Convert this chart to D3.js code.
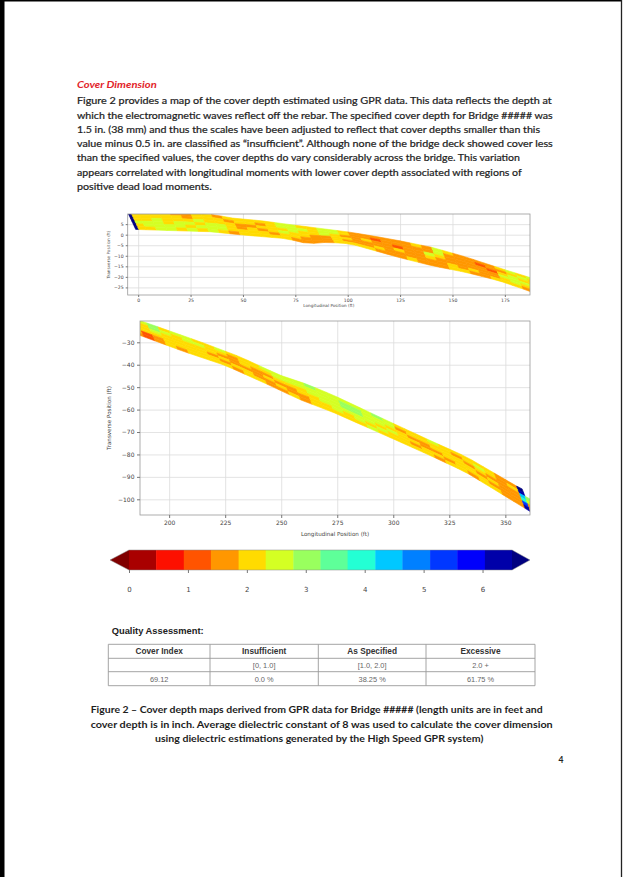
<!DOCTYPE html>
<html>
<head>
<meta charset="utf-8">
<title>Cover Dimension</title>
<script src="https://cdnjs.cloudflare.com/ajax/libs/d3/7.8.5/d3.min.js"></script>
<style>
  body { margin: 0; background: #fff; }
  svg { display: block; }
  .para { font-family: Lato, "Open Sans", sans-serif; font-size: 9.6px; fill: #1e1e1e; stroke: #1e1e1e; stroke-width: 0.22px; }
  .caption { font-family: Lato, sans-serif; font-size: 9.4px; font-weight: bold; fill: #1e1e1e; }
  .axis text { font-family: "DejaVu Sans", sans-serif; fill: #444; }
  .axis line { stroke: #777; }
  .grid line { stroke: #dcdcdc; stroke-width: 0.8px; }
  .grid path { display: none; }
  .tbl text { font-family: "Liberation Sans", Arial, sans-serif; }
</style>
</head>
<body>
<div id="page"></div>
<script type="text/javascript">
// colour levels of the cover depth (in.) and the jet colours between them
const levels = [0, 0.46, 0.93, 1.39, 1.86, 2.32, 2.79, 3.25, 3.71, 4.18, 4.64, 5.11, 5.57, 6.04, 6.5];
const binColors = ["#a90000", "#fd1000", "#ff5400", "#ff9700", "#ffdb00", "#d4ff23", "#99ff5e",
                   "#5eff99", "#23ffd4", "#00c8ff", "#0080ff", "#0037ff", "#0000fc", "#0000a9"];
const underColor = "#800000";
const overColor = "#000080";
const cbarTicks = [0, 1, 2, 3, 4, 5, 6];

// deck outline (ft): top and bottom edges of the scanned strip
const topEdgeX = [-5, 20, 36, 45.4, 58, 70.8, 83.5, 101, 113.7, 124.8, 140.6, 156.5, 172.4, 187,
                  213.7, 231.5, 249.3, 261.2, 273.1, 298.3, 317.6, 332.5, 355.5, 362];
const topEdgeY = [10.5, 10.5, 9.5, 7.8, 6.7, 5.0, 3.4, 1.2, -0.9, -2.9, -6.1, -10.6, -15.8, -20.3,
                  -29.7, -36.4, -44.6, -48.6, -53.5, -65.4, -74.3, -81, -94.4, -97.5];
const bottomEdgeX = [-1.3, 13.7, 34.4, 50.3, 70.8, 78.7, 85, 89.8, 101, 113.7, 124.8, 140.6, 156.5, 172.4, 187,
                     206.2, 225.5, 243.3, 258.2, 273.1, 299.8, 317.6, 332.5, 347.3, 362];
const bottomEdgeY = [2.5, 2.0, 1.4, -0.2, -1.9, -3.8, -4.2, -3.6, -4.3, -7.8, -10.9, -14.8, -17.9, -21.9, -26.9,
                     -34.0, -40.5, -48.5, -55.5, -61.2, -73.0, -81.0, -88.0, -97.0, -106];
const skew = 3.8;

// scan columns along the deck (ft) and cover depth bins per lane (top lane first)
// one char per column: hex digit = colour bin index, N = above 6.5 in., . = no data
const stations = [-5, -3.5].concat(d3.range(0, 360, 5), [357.5, 365]);
const lanes = [
  "N4 4443344344 4445544554 3333334354 3333454564 5544544455 5565555565 4445444443 3N.",
  "N4 4444344434 4345554554 3323333353 3323345465 4554434445 5555566555 3444434543 4d.",
  "N4 4544454443 3444544543 3433233543 3332454454 4444334334 4455566554 4334443433 396",
  "N5 5545545543 4345443344 3333433433 3333555444 4443433343 3445555545 4433444343 385",
  "N4 5555455544 4434433343 3343333334 3433454234 4444344334 3344545454 4344344433 3b3",
  "N4 4554545434 4444333344 4433343334 4334443234 3444434433 4344444544 4443443443 3d3"
].map(s => s.replace(/ /g, ""));

const topXTicks = [0, 25, 50, 75, 100, 125, 150, 175];
const topYTicks = [5, 0, -5, -10, -15, -20, -25];
const bottomXTicks = [200, 225, 250, 275, 300, 325, 350];
const bottomYTicks = [-30, -40, -50, -60, -70, -80, -90, -100];

const tableHeader = ["Cover Index", "Insufficient", "As Specified", "Excessive"];
const tableRanges = ["", "[0, 1.0]", "[1.0, 2.0]", "2.0 +"];
const tableValues = ["69.12", "0.0 %", "38.25 %", "61.75 %"];

const width = 625;
const height = 877;

const svg = d3.select("#page").append("svg")
    .attr("width", width)
    .attr("height", height);

// page edges
svg.append("rect").attr("x", 0).attr("y", 0).attr("width", 4.5).attr("height", height).attr("fill", "#000");
svg.append("line").attr("x1", 0).attr("x2", 622).attr("y1", 0.8).attr("y2", 0.8).attr("stroke", "#000").attr("stroke-width", 1.6);
svg.append("line").attr("x1", 621.5).attr("x2", 621.5).attr("y1", 0).attr("y2", height).attr("stroke", "#222").attr("stroke-width", 1.3);

// heading and paragraph
svg.append("text")
    .attr("x", 77).attr("y", 88.3)
    .attr("font-family", "Lato, sans-serif").attr("font-size", 9.6)
    .attr("font-weight", "bold").attr("font-style", "italic")
    .attr("fill", "#e2242b")
    .attr("textLength", 79.7).attr("lengthAdjust", "spacingAndGlyphs")
    .text("Cover Dimension");

const paraLines = [
  ["Figure 2 provides a map of the cover depth estimated using GPR data. This data reflects the depth at", 474.7],
  ["which the electromagnetic waves reflect off the rebar. The specified cover depth for Bridge ##### was", 475.7],
  ["1.5 in. (38 mm) and thus the scales have been adjusted to reflect that cover depths smaller than this", 463],
  ["value minus 0.5 in. are classified as \u201cinsufficient\u201d. Although none of the bridge deck showed cover less", 475.7],
  ["than the specified values, the cover depths do vary considerably across the bridge. This variation", 443],
  ["appears correlated with longitudinal moments with lower cover depth associated with regions of", 444.7],
  ["positive dead load moments.", 134.7]
];
svg.append("g").selectAll("text")
    .data(paraLines)
    .join("text")
    .attr("class", "para")
    .attr("x", 77)
    .attr("y", (d, i) => 104.3 + i * 14.28)
    .attr("textLength", d => d[1])
    .attr("lengthAdjust", "spacingAndGlyphs")
    .text(d => d[0]);

// colour scale
const color = d3.scaleThreshold()
    .domain(levels)
    .range([underColor].concat(binColors, [overColor]));

function codeToDepth(c) {
  if (c === ".") return null;
  if (c === "N") return 7;
  const i = parseInt(c, 16);
  return (levels[i] + levels[i + 1]) / 2;
}

const cells = [];
lanes.forEach((row, k) => {
  for (let j = 0; j < stations.length - 1; j++) {
    const depth = codeToDepth(row[j]);
    if (depth === null) continue;
    cells.push({ j: j, k: k, depth: depth });
  }
});

const topY = d3.scaleLinear().domain(topEdgeX).range(topEdgeY);
const botY = d3.scaleLinear().domain(bottomEdgeX).range(bottomEdgeY);
const nLanes = lanes.length;

function deckPoint(s, f) {
  const px = s + f * skew;
  return [px, topY(px) * (1 - f) + botY(px) * f];
}

function cellCorners(c) {
  const s0 = stations[c.j], s1 = stations[c.j + 1];
  const f0 = c.k / nLanes, f1 = (c.k + 1) / nLanes;
  return [deckPoint(s0, f0), deckPoint(s1, f0), deckPoint(s1, f1), deckPoint(s0, f1)];
}

function drawPanel(p) {
  const g = svg.append("g");
  const x = d3.scaleLinear().domain(p.xDomain).range([p.left, p.right]);
  const y = d3.scaleLinear().domain(p.yDomain).range([p.bottom, p.top]);

  // grid
  g.append("g").attr("class", "grid")
      .attr("transform", "translate(0," + p.bottom + ")")
      .call(d3.axisBottom(x).tickValues(p.xTicks).tickSize(-(p.bottom - p.top)).tickFormat(""));
  g.append("g").attr("class", "grid")
      .attr("transform", "translate(" + p.left + ",0)")
      .call(d3.axisLeft(y).tickValues(p.yTicks).tickSize(-(p.right - p.left)).tickFormat(""));

  svg.append("clipPath").attr("id", "clip-" + p.name)
    .append("rect")
      .attr("x", p.left).attr("y", p.top)
      .attr("width", p.right - p.left).attr("height", p.bottom - p.top);

  g.append("g")
      .attr("clip-path", "url(#clip-" + p.name + ")")
      .selectAll("path")
      .data(cells)
      .join("path")
      .attr("d", c => "M" + cellCorners(c).map(pt => [x(pt[0]), y(pt[1])]).join("L") + "Z")
      .attr("fill", c => color(c.depth))
      .attr("stroke", c => color(c.depth))
      .attr("stroke-width", 0.6);

  g.append("rect")
      .attr("x", p.left).attr("y", p.top)
      .attr("width", p.right - p.left).attr("height", p.bottom - p.top)
      .attr("fill", "none").attr("stroke", "#999").attr("stroke-width", 0.8);

  const xa = g.append("g").attr("class", "axis")
      .attr("transform", "translate(0," + p.bottom + ")")
      .call(d3.axisBottom(x).tickValues(p.xTicks).tickSize(p.tick).tickPadding(p.pad).tickFormat(d3.format("d")));
  xa.select(".domain").remove();
  xa.selectAll("text").attr("font-size", p.fs);

  const ya = g.append("g").attr("class", "axis")
      .attr("transform", "translate(" + p.left + ",0)")
      .call(d3.axisLeft(y).tickValues(p.yTicks).tickSize(p.tick).tickPadding(p.pad).tickFormat(d3.format("d")));
  ya.select(".domain").remove();
  ya.selectAll("text").attr("font-size", p.fs);

  g.append("text")
      .attr("x", (p.left + p.right) / 2).attr("y", p.xLabelY)
      .attr("text-anchor", "middle")
      .attr("font-family", "DejaVu Sans, sans-serif").attr("font-size", p.labelFs).attr("fill", "#444")
      .text("Longitudinal Position (ft)");
  g.append("text")
      .attr("transform", "translate(" + p.yLabelX + "," + (p.top + p.bottom) / 2 + ") rotate(-90)")
      .attr("text-anchor", "middle")
      .attr("font-family", "DejaVu Sans, sans-serif").attr("font-size", p.labelFs).attr("fill", "#444")
      .text("Transverse Position (ft)");
}

drawPanel({
  name: "top", left: 127.7, right: 530, top: 214, bottom: 295,
  xDomain: [-5, 187], yDomain: [-28.6, 9.8],
  xTicks: topXTicks, yTicks: topYTicks,
  tick: 2, pad: 2, fs: 4.6, labelFs: 4.2, xLabelY: 307, yLabelX: 110
});

drawPanel({
  name: "bottom", left: 140, right: 530, top: 321, bottom: 515,
  xDomain: [187, 361], yDomain: [-107, -20.5],
  xTicks: bottomXTicks, yTicks: bottomYTicks,
  tick: 3, pad: 2.5, fs: 6, labelFs: 5.6, xLabelY: 536, yLabelX: 111
});

// colour bar
const cbX = d3.scaleLinear().domain([0, 6.5]).range([129, 512]);
const cbTop = 550, cbBottom = 570, cbMid = 560;
const cb = svg.append("g");
cb.selectAll("rect")
    .data(binColors)
    .join("rect")
    .attr("x", (d, i) => cbX(levels[i]))
    .attr("y", cbTop)
    .attr("width", (d, i) => cbX(levels[i + 1]) - cbX(levels[i]) + 0.4)
    .attr("height", cbBottom - cbTop)
    .attr("fill", d => d);
cb.append("path")
    .attr("d", "M" + cbX(0) + "," + cbTop + "L110," + cbMid + "L" + cbX(0) + "," + cbBottom + "Z")
    .attr("fill", underColor);
cb.append("path")
    .attr("d", "M" + cbX(6.5) + "," + cbTop + "L530," + cbMid + "L" + cbX(6.5) + "," + cbBottom + "Z")
    .attr("fill", overColor);
cb.append("path")
    .attr("d", "M" + cbX(0) + "," + cbTop + "L110," + cbMid + "L" + cbX(0) + "," + cbBottom +
               "L" + cbX(6.5) + "," + cbBottom + "L530," + cbMid + "L" + cbX(6.5) + "," + cbTop + "Z")
    .attr("fill", "none").attr("stroke", "#888").attr("stroke-width", 0.5);
const cbAxis = cb.append("g").attr("class", "axis")
    .attr("transform", "translate(0," + cbBottom + ")")
    .call(d3.axisBottom(cbX).tickValues(cbarTicks).tickSize(3).tickPadding(14).tickFormat(d3.format("d")));
cbAxis.select(".domain").remove();
cbAxis.selectAll("text").attr("font-size", 7).attr("fill", "#555");

// quality assessment table
const tbl = svg.append("g").attr("class", "tbl");
tbl.append("text")
    .attr("x", 111.7).attr("y", 633.6)
    .attr("font-size", 8.4).attr("font-weight", "bold").attr("fill", "#222")
    .attr("textLength", 92).attr("lengthAdjust", "spacingAndGlyphs")
    .text("Quality Assessment:");

const colEdges = [108.3, 210, 318.3, 426, 535];
const rowEdges = [644.3, 658.3, 671.7, 685.7];
colEdges.forEach(cx => {
  tbl.append("line").attr("x1", cx).attr("x2", cx).attr("y1", rowEdges[0]).attr("y2", rowEdges[3])
      .attr("stroke", "#9a9a9a").attr("stroke-width", 0.9);
});
rowEdges.forEach(ry => {
  tbl.append("line").attr("x1", colEdges[0]).attr("x2", colEdges[4]).attr("y1", ry).attr("y2", ry)
      .attr("stroke", "#9a9a9a").attr("stroke-width", 0.9);
});
const tableRows = [tableHeader, tableRanges, tableValues];
tableRows.forEach((row, r) => {
  tbl.selectAll(null)
      .data(row)
      .join("text")
      .attr("x", (d, i) => (colEdges[i] + colEdges[i + 1]) / 2)
      .attr("y", (rowEdges[r] + rowEdges[r + 1]) / 2 + 2.8)
      .attr("text-anchor", "middle")
      .attr("font-size", r === 0 ? 8.3 : 7.4)
      .attr("font-weight", r === 0 ? "bold" : "normal")
      .attr("fill", r === 0 ? "#333" : "#666")
      .text(d => d);
});

// figure caption
const captionLines = [
  ["Figure 2 \u2013 Cover depth maps derived from GPR data for Bridge ##### (length units are in feet and", 90.7, 452],
  ["cover depth is in inch. Average dielectric constant of 8 was used to calculate the cover dimension", 90.7, 462],
  ["using dielectric estimations generated by the High Speed GPR system)", 155, 328.3]
];
svg.append("g").selectAll("text")
    .data(captionLines)
    .join("text")
    .attr("class", "caption")
    .attr("x", d => d[1])
    .attr("y", (d, i) => 713.3 + i * 14.2)
    .attr("textLength", d => d[2])
    .attr("lengthAdjust", "spacingAndGlyphs")
    .text(d => d[0]);

svg.append("text")
    .attr("x", 561).attr("y", 762.5)
    .attr("text-anchor", "middle")
    .attr("font-family", "Lato, sans-serif").attr("font-size", 8.5).attr("font-weight", "bold").attr("fill", "#222")
    .text("4");
</script>
</body>
</html>
